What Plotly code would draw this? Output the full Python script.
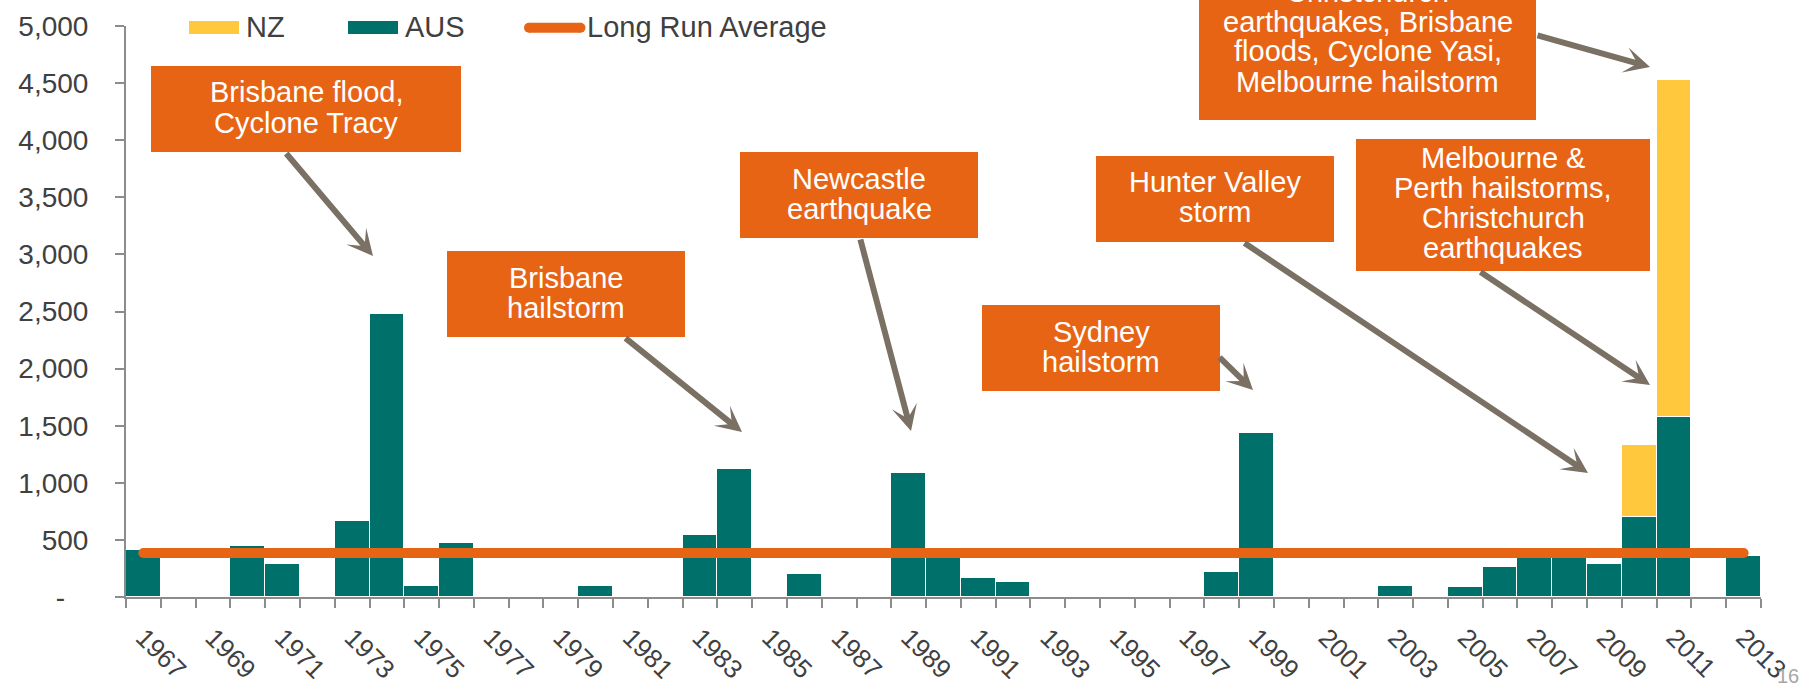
import plotly.graph_objects as go

# ---- data -------------------------------------------------------------
YEARS = list(range(1967, 2014))

# Australian insured catastrophe losses by year (None = no event recorded)
AUS = [
    410, None, None, 445, 285, None, 665, 2475, 100, 475,      # 1967-1976
    None, None, None, 95, None, None, 540, 1120, None, 205,    # 1977-1986
    None, None, 1085, 370, 165, 135, None, None, None, None,   # 1987-1996
    None, 215, 1440, None, None, None, 100, None, 90, 265,     # 1997-2006
    380, 380, 290, 700, 1575, None, 355,                       # 2007-2013
]
# New Zealand losses stacked on top
NZ = [None] * 43 + [630, 2955, None, None]

LONG_RUN_AVERAGE = 385

Y_TICKS = [0, 500, 1000, 1500, 2000, 2500, 3000, 3500, 4000, 4500, 5000]
Y_TICK_TEXT = ["-\u00a0\u00a0\u00a0", "500", "1,000", "1,500", "2,000", "2,500",
               "3,000", "3,500", "4,000", "4,500", "5,000"]
X_TICK_YEARS = YEARS[::2]

# ---- styling ----------------------------------------------------------
TEAL = "#00706a"
YELLOW = "#ffc83d"
ORANGE = "#e86415"
ARROW = "#7a7064"
AXIS = "#8c8c8c"
TEXT = "#404040"
FONT = "Liberation Sans, Arial, sans-serif"

FIG_W, FIG_H = 1811, 688
M_L, M_R, M_T, M_B = 126, 50, 26, 91
PW = FIG_W - M_L - M_R
PH = FIG_H - M_T - M_B


def fx(px):
    return (px - M_L) / PW


def fy(py):
    return (FIG_H - M_B - py) / PH


fig = go.Figure()

fig.add_trace(go.Bar(
    x=YEARS, y=AUS, name="AUS", marker_color=TEAL,
    marker_line=dict(color="white", width=1.2), showlegend=False,
))
fig.add_trace(go.Bar(
    x=YEARS, y=NZ, name="NZ", marker_color=YELLOW,
    marker_line=dict(color="white", width=1.2), showlegend=False,
))
fig.add_trace(go.Scatter(
    x=[YEARS[0], YEARS[-1]], y=[LONG_RUN_AVERAGE, LONG_RUN_AVERAGE],
    mode="lines+markers", name="Long Run Average",
    line=dict(color=ORANGE, width=10),
    marker=dict(color=ORANGE, size=10, line=dict(width=0)),
    showlegend=False,
))

shapes = []
annotations = []

# ---- legend -----------------------------------------------------------
LEG_FONT = dict(family=FONT, size=29, color=TEXT)
for x0, color, label in [(189, YELLOW, "NZ"), (348, TEAL, "AUS")]:
    shapes.append(dict(type="rect", xref="paper", yref="paper",
                       x0=fx(x0), x1=fx(x0 + 50), y0=fy(34), y1=fy(21),
                       fillcolor=color, line=dict(width=0)))
    annotations.append(dict(x=fx(x0 + 55), y=fy(27), xref="paper", yref="paper",
                            text=label, showarrow=False, xanchor="left",
                            yanchor="middle", font=LEG_FONT))
shapes.append(dict(type="rect", xref="paper", yref="paper",
                   x0=fx(529), x1=fx(580.5), y0=fy(32.7), y1=fy(22.7),
                   fillcolor=ORANGE, line=dict(width=0)))
for cx in (529, 580.5):
    shapes.append(dict(type="circle", xref="paper", yref="paper",
                       x0=fx(cx - 5), x1=fx(cx + 5), y0=fy(32.7), y1=fy(22.7),
                       fillcolor=ORANGE, line=dict(width=0)))
annotations.append(dict(x=fx(585), y=fy(27), xref="paper", yref="paper",
                        text="Long Run Average", showarrow=False, xanchor="left",
                        yanchor="middle", font=LEG_FONT))

# ---- event call-outs --------------------------------------------------
CALLOUTS = [
    ((151, 66, 461, 152), ["Brisbane flood,", "Cyclone Tracy"], [92, 122.5]),
    ((447, 251, 685, 337), ["Brisbane", "hailstorm"], [278, 308]),
    ((740, 152, 978, 238), ["Newcastle", "earthquake"], [179.5, 209]),
    ((1096, 156, 1334, 242), ["Hunter Valley", "storm"], [182, 212]),
    ((982, 305, 1220, 391), ["Sydney", "hailstorm"], [331.5, 361.5]),
    ((1199, -60, 1536, 120), ["Christchurch", "earthquakes, Brisbane",
                              "floods, Cyclone Yasi,", "Melbourne hailstorm"],
     [-8.5, 21.5, 51.5, 81.5]),
    ((1356, 139, 1650, 271), ["Melbourne &", "Perth hailstorms,",
                              "Christchurch", "earthquakes"],
     [158, 188, 218, 248]),
]
BOX_FONT = dict(family=FONT, size=29, color="white")
for (x0, y0, x1, y1), lines, ys in CALLOUTS:
    shapes.append(dict(type="rect", xref="paper", yref="paper",
                       x0=fx(x0), x1=fx(x1), y0=fy(y1), y1=fy(y0),
                       fillcolor=ORANGE, line=dict(width=0), layer="above"))
    for line, ly in zip(lines, ys):
        annotations.append(dict(x=fx((x0 + x1) / 2), y=fy(ly),
                                xref="paper", yref="paper", text=line,
                                showarrow=False, xanchor="center",
                                yanchor="middle", font=BOX_FONT))

# arrows: (tail x, tail y) -> (head x, head y) in pixels
ARROWS = [
    ((285, 152), (373, 256)),
    ((624, 337), (742, 432)),
    ((860, 238), (911, 431)),
    ((1218, 356), (1253, 390)),
    ((1243, 242), (1588, 473)),
    ((1479, 271), (1650, 385)),
    ((1536, 35), (1650, 67)),
]
for (tx, ty), (hx, hy) in ARROWS:
    annotations.append(dict(
        x=fx(hx), y=fy(hy), xref="paper", yref="paper",
        ax=tx - hx, ay=ty - hy, axref="pixel", ayref="pixel",
        text="", showarrow=True, arrowhead=3, arrowsize=0.72,
        arrowwidth=6, arrowcolor=ARROW, standoff=0,
    ))

# page number
annotations.append(dict(x=fx(1788), y=fy(676), xref="paper", yref="paper",
                        text="16", showarrow=False, xanchor="center",
                        yanchor="middle",
                        font=dict(family=FONT, size=20, color="#a6a6a6")))

fig.update_layout(
    template="none",
    width=FIG_W, height=FIG_H,
    margin=dict(l=M_L, r=M_R, t=M_T, b=M_B, pad=0),
    paper_bgcolor="white", plot_bgcolor="white",
    barmode="stack", bargap=0,
    showlegend=False,
    shapes=shapes, annotations=annotations,
    font=dict(family=FONT, color=TEXT),
)
fig.update_xaxes(
    range=[YEARS[0] - 0.5, YEARS[-1] + 0.5],
    tickmode="array", tickvals=X_TICK_YEARS,
    ticktext=[str(y) for y in X_TICK_YEARS],
    tickangle=45, ticks="", ticklabelstandoff=13,
    tickfont=dict(family=FONT, size=26, color=TEXT),
    minor=dict(ticks="outside", ticklen=9, tickwidth=2, tickcolor=AXIS,
               tick0=YEARS[0] - 0.5, dtick=1, showgrid=False),
    showline=True, linecolor=AXIS, linewidth=2,
    showgrid=False, zeroline=False, automargin=False,
)
fig.update_yaxes(
    range=[0, 5000],
    tickmode="array", tickvals=Y_TICKS, ticktext=Y_TICK_TEXT,
    ticks="outside", ticklen=9, tickwidth=2, tickcolor=AXIS,
    ticklabelstandoff=21,
    tickfont=dict(family=FONT, size=28, color=TEXT),
    showline=True, linecolor=AXIS, linewidth=2,
    showgrid=False, zeroline=False, automargin=False,
)

fig.write_html("out.html")
